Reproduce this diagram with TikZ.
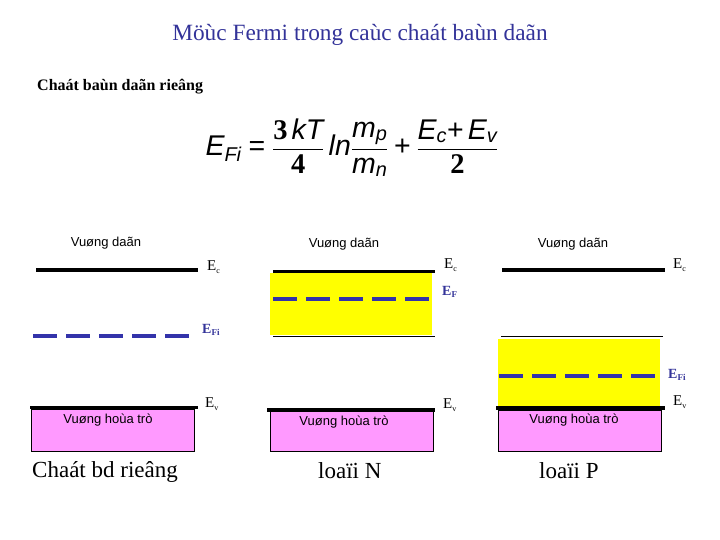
\documentclass[tikz,border=0pt]{standalone}
\usepackage{amsmath}
\usepackage{fontspec}
\setmainfont{Liberation Serif}
\newfontfamily\fsans{Liberation Sans}
\newfontfamily\fserif{Liberation Serif}
\definecolor{titleblue}{RGB}{51,51,153}
\definecolor{dashblue}{RGB}{51,51,170}
\definecolor{bandpink}{RGB}{255,153,255}
\definecolor{bandyellow}{RGB}{255,255,0}
\newcommand\myit[1]{\text{\fsans\itshape #1}}
\newcommand\myup[1]{\text{\fsans #1}}
\newcommand\mybd[1]{\text{\fserif\bfseries #1}}
\newcommand\myfrac[2]{\genfrac{}{}{1.4pt}{0}{#1}{#2}}
\tikzset{
  level/.style={line width=3.6pt},
  thinlevel/.style={line width=1pt},
  fermi/.style={line width=4pt, dashblue, dash pattern=on 23.5pt off 9.5pt},
  bandlab/.style={inner sep=0pt, font=\fsans\fontsize{13}{15}\selectfont},
  elab/.style={inner sep=0pt, anchor=base west, font=\fserif\fontsize{15}{16}\selectfont},
  flab/.style={inner sep=0pt, anchor=base west, text=titleblue, font=\fserif\bfseries\fontsize{14}{16}\selectfont},
  caption/.style={inner sep=0pt, anchor=base west, font=\fserif\fontsize{23}{26}\selectfont},
}
\newcommand\esub[1]{\raisebox{-0.5ex}{\fontsize{8}{8}\selectfont #1}}
\newcommand\fsub[1]{\raisebox{-0.35ex}{\fontsize{9}{9}\selectfont\bfseries #1}}
\begin{document}
\begin{tikzpicture}[x=1pt,y=-1pt]
\useasboundingbox (0,0) rectangle (720,540);
% title
\node[inner sep=0pt, text=titleblue, font=\fserif\fontsize{23.3}{26}\selectfont] (title) at (360,35) {Möùc Fermi trong caùc chaát baùn daãn};
\node[inner sep=0pt, anchor=base west, font=\fserif\bfseries\fontsize{16}{18}\selectfont] (sub) at (37,91) {Chaát baùn daãn rieâng};
% formula
\node[inner sep=0pt, anchor=base] (formula) at (352,156) {\fontsize{28.5}{33}\selectfont
$\displaystyle \myit{E}_{\myit{Fi}} \mathrel{\myup{=}}
\myfrac{\mybd{3}\,\myit{kT}}{\mybd{4}}\,\myit{ln}\myfrac{\myit{m}_{\myit{p}}}{\myit{m}_{\myit{n}}}
\mathbin{\myup{+}}\myfrac{\myit{E}_{\myit{c}}\myup{+}\,\myit{E}_{\myit{v}}}{\mybd{2}}$};
% ---------- left panel: intrinsic
\node[bandlab] (vd1) at (106,243) {Vuøng daãn};
\coordinate (c1a) at (36,270); \coordinate (c1b) at (198,270);
\draw[level] (c1a) -- (c1b);
\node[elab] (ec1) at (207,270) {E\esub{c}};
\coordinate (f1a) at (33,336); \coordinate (f1b) at (190,336);
\draw[fermi] (f1a) -- (f1b);
\node[flab] (efi1) at (202,333) {E\fsub{Fi}};
\node[draw=black, fill=bandpink, minimum width=163pt, minimum height=42pt, inner sep=0pt, anchor=north west] (vb1) at (31,409) {};
\draw[level] (30,407.5) -- (198,407.5);
\node[bandlab] (vh1) at (108,420) {Vuøng hoùa trò};
\node[elab] (ev1) at (205,407) {E\esub{v}};
\node[caption] (cap1) at (32,477) {Chaát bd rieâng};
% ---------- middle panel: N type
\node[bandlab] (vd2) at (344,244) {Vuøng daãn};
\node[fill=bandyellow, minimum width=162pt, minimum height=62pt, inner sep=0pt, anchor=north west] (yb2) at (270,273) {};
\draw[level] (273,271.5) -- (435,271.5);
\node[elab] (ec2) at (444,268) {E\esub{c}};
\draw[fermi] (273,299) -- (430,299);
\node[flab] (ef2) at (442,295) {E\fsub{F}};
\draw[thinlevel] (273,336) -- (435,336);
\node[draw=black, fill=bandpink, minimum width=163pt, minimum height=40pt, inner sep=0pt, anchor=north west] (vb2) at (270,411) {};
\draw[level] (267,410) -- (435,410);
\node[bandlab] (vh2) at (344,422) {Vuøng hoùa trò};
\node[elab] (ev2) at (443,408) {E\esub{v}};
\node[caption] (cap2) at (318,478) {loaïi N};
% ---------- right panel: P type
\node[bandlab] (vd3) at (573,244) {Vuøng daãn};
\draw[level] (502,270) -- (665,270);
\node[elab] (ec3) at (673,268) {E\esub{c}};
\draw[thinlevel] (501,336) -- (663,336);
\node[fill=bandyellow, minimum width=162pt, minimum height=68pt, inner sep=0pt, anchor=north west] (yb3) at (498,339) {};
\draw[fermi] (499,376) -- (658,376);
\node[flab] (efi3) at (668,378) {E\fsub{Fi}};
\node[draw=black, fill=bandpink, minimum width=163pt, minimum height=41pt, inner sep=0pt, anchor=north west] (vb3) at (498,410) {};
\draw[level] (496,408) -- (665,408);
\node[bandlab] (vh3) at (574,420) {Vuøng hoùa trò};
\node[elab] (ev3) at (673,405) {E\esub{v}};
\node[caption] (cap3) at (539,478) {loaïi P};
\end{tikzpicture}
\end{document}
